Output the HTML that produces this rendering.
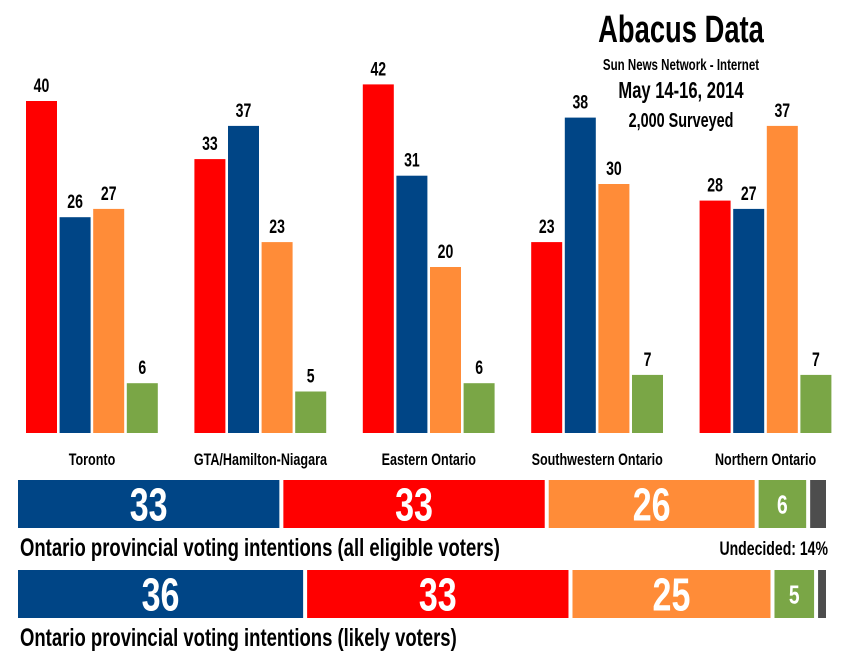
<!DOCTYPE html>
<html><head><meta charset="utf-8"><style>
body{margin:0;background:#fff;width:852px;height:662px;overflow:hidden}
svg text{font-family:"Liberation Sans Narrow","Liberation Sans",sans-serif;font-weight:bold}
</style></head><body>
<svg id="c" width="852" height="662" xmlns="http://www.w3.org/2000/svg">
<g>
<text transform="translate(681,0) scale(0.72,1)" x="0" y="42" text-anchor="middle" font-size="38">Abacus Data</text>
<text transform="translate(681,0) scale(0.72,1)" x="0" y="70" text-anchor="middle" font-size="16">Sun News Network - Internet</text>
<text transform="translate(681,0) scale(0.72,1)" x="0" y="98" text-anchor="middle" font-size="23">May 14-16, 2014</text>
<text transform="translate(681,0) scale(0.72,1)" x="0" y="127" text-anchor="middle" font-size="20">2,000 Surveyed</text>
</g>
<g id="bars"></g>
<g id="stack"></g>
</svg>
<script>
const regions=["Toronto","GTA/Hamilton-Niagara","Eastern Ontario","Southwestern Ontario","Northern Ontario"];
const liberal=[40,33,42,23,28];
const pc=[26,37,31,38,27];
const ndp=[27,23,20,30,37];
const green=[6,5,6,7,7];
const allVoters=[33,33,26,6,2];
const likelyVoters=[36,33,25,5,1];
const NS="http://www.w3.org/2000/svg";
const SX=0.74;
function mk(t,a,p){const e=document.createElementNS(NS,t);for(const k in a)e.setAttribute(k,a[k]);p.appendChild(e);return e;}
function txt(p,x,yy,a){const e=mk('text',Object.assign({x:0,y:yy,transform:'translate('+x+',0) scale('+SX+',1)'},a),p);return e;}
const bars=document.getElementById('bars');
const base=433, k=8.3;
const y=v=>base-v*k;
const gx=i=>26+i*168.4;
const series=[[liberal,"#ff0000","liberal"],[pc,"#004586","pc"],[ndp,"#ff8c38","ndp"],[green,"#7aa646","green"]];
regions.forEach((r,i)=>{
  series.forEach((s,j)=>{
    const v=s[0][i], x=gx(i)+j*33.6;
    const b=mk('rect',{x:x,y:y(v),width:31,height:v*k,fill:s[1]},bars);
    
    
    const t=txt(bars,x+15.5,y(v)-9,{'text-anchor':'middle','font-size':19});
    t.textContent=v;
    
    
  });
  const l=txt(bars,gx(i)+66,465,{'text-anchor':'middle','font-size':17});
  l.textContent=r;
  
  
});
const st=document.getElementById('stack');
const cols=["#004586","#ff0000","#ff8c38","#7aa646","#4d4d4d"];
const names=["pc","liberal","ndp","green","other"];
function row(vals,top,label,nm){
  const total=vals.reduce((a,b)=>a+b,0), W=808-4*4;
  let x=18;
  vals.forEach((v,j)=>{
    const w=v/total*W;
    const r=mk('rect',{x:x,y:top,width:w,height:48,fill:cols[j]},st);
    
    
    if(j<4){
      const fs=j==3?26:46;
      const t=txt(st,x+w/2,top+24+fs*0.36,{'text-anchor':'middle','font-size':fs,fill:'#fff'});
      t.textContent=v;
      
      
    }
    x+=w+4;
  });
  const l=txt(st,20,top+76,{'font-size':25});
  l.textContent=label;
  
  
}
row(allVoters,480,"Ontario provincial voting intentions (all eligible voters)","all");
row(likelyVoters,570,"Ontario provincial voting intentions (likely voters)","likely");
const u=txt(st,828,555,{'text-anchor':'end','font-size':19});
u.textContent="Undecided: 14%";


</script>
</body></html>
